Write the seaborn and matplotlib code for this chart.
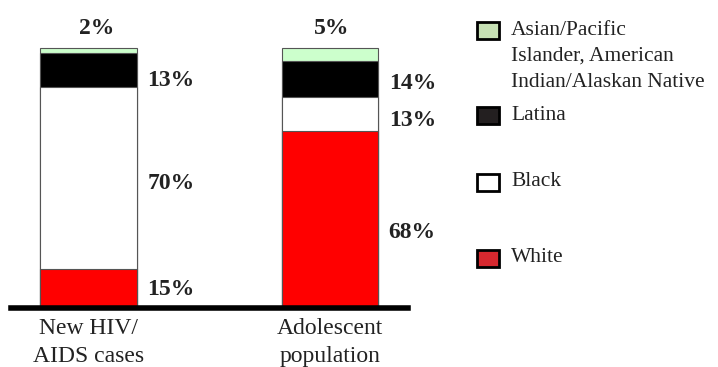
import matplotlib
matplotlib.use("Agg")
import matplotlib.pyplot as plt
from matplotlib.patches import Rectangle
import seaborn as sns
import pandas as pd
import numpy as np

# Share of each group (percent), listed bottom to top of each stacked bar
groups = ["White", "Black", "Latina",
          "Asian/Pacific\nIslander, American\nIndian/Alaskan Native"]
categories = ["New HIV/\nAIDS cases", "Adolescent\npopulation"]
hiv_cases = [15, 70, 13, 2]
adolescents = [68, 13, 14, 5]

bar_colors = ["#ff0000", "#ffffff", "#000000", "#ccffcc"]
legend_colors = ["#d7282f", "#ffffff", "#231f20", "#c6e0b4"]

sns.set_theme(style="white")
plt.rcParams["font.family"] = ["Liberation Serif", "DejaVu Serif"]

W, H = 718, 367
fig = plt.figure(figsize=(W / 100, H / 100), dpi=100)
ax_left, ax_right, ax_top, ax_bottom = 11, 408, 20, 308
ax = fig.add_axes([ax_left / W, (H - ax_bottom) / H,
                   (ax_right - ax_left) / W, (ax_bottom - ax_top) / H])

values = np.array([hiv_cases, adolescents])  # shape (2 bars, 4 groups)
tops = values.cumsum(axis=1)

# Stacked bars: draw cumulative totals from the top layer down
for k in range(len(groups) - 1, -1, -1):
    df = pd.DataFrame({"category": categories, "total": tops[:, k]})
    sns.barplot(data=df, x="category", y="total", color=bar_colors[k],
                width=0.4, edgecolor="#555555", linewidth=0.8,
                saturation=1, ax=ax, zorder=2)

px_per_unit = 241.5
ax.set_xlim(-(88.5 - ax_left) / px_per_unit, (ax_right - 88.5) / px_per_unit)
ax.set_ylim(0, 100 * (ax_bottom - ax_top) / 260)

for s in ["top", "left", "right"]:
    ax.spines[s].set_visible(False)
ax.spines["bottom"].set_linewidth(4)
ax.spines["bottom"].set_color("black")
ax.spines["bottom"].set_zorder(5)
ax.set_yticks([])
ax.set_xlabel("")
ax.set_ylabel("")
ax.tick_params(axis="x", length=0, pad=7.5, labelsize=17, colors="#222222")
for t in ax.get_xticklabels():
    t.set_linespacing(1.42)

# Percentage labels: side labels at segment middles, top segment above the bar
label_kw = dict(fontsize=17, fontweight="bold", color="#222222", va="center")
side_nudge = [[-0.7, -4.2, -7.3, 0], [-9, -4.2, -3.2, 0]]  # points, per bar / group
for i in range(2):
    bottoms = np.concatenate([[0], tops[i, :-1]])
    for k in range(len(groups)):
        v = values[i, k]
        if k == len(groups) - 1:
            ax.annotate(f"{v}%", (i, 100), xytext=(6 if i == 0 else 1, 14),
                        textcoords="offset points", ha="center",
                        annotation_clip=False, **label_kw)
        else:
            mid = bottoms[k] + v / 2
            ax.annotate(f"{v}%", (i + 0.2, mid),
                        xytext=(7.5, side_nudge[i][k]),
                        textcoords="offset points", ha="left",
                        annotation_clip=False, **label_kw)

# Legend, top entry first
legend_rows = [(3, 30), (2, 115), (1, 182), (0, 258)]  # group index, y center px
for k, yc in legend_rows:
    fig.patches.append(Rectangle((477 / W, (H - yc - 9) / H),
                                 22 / W, 17 / H, transform=fig.transFigure,
                                 facecolor=legend_colors[k], edgecolor="black",
                                 linewidth=2))
    n_lines = groups[k].count("\n")
    fig.text(511 / W, (H - yc + 9) / H if n_lines else (H - yc) / H,
             groups[k], fontsize=15.5, color="#222222",
             va="top" if n_lines else "center", ha="left", linespacing=1.5)

fig.savefig("out.png", dpi=100)
